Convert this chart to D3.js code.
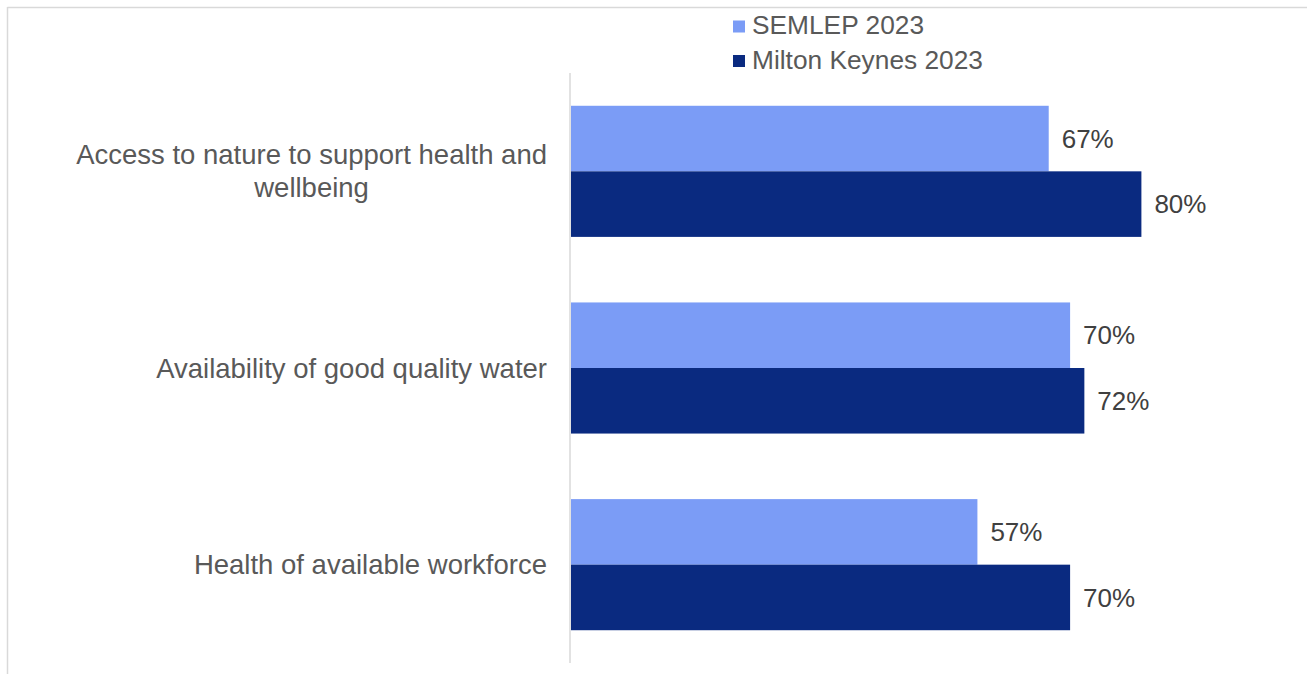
<!DOCTYPE html>
<html>
<head>
<meta charset="utf-8">
<script src="https://cdn.jsdelivr.net/npm/d3@7"></script>
<style>
  html, body { margin: 0; padding: 0; background: #fff; }
  svg { display: block; font-family: "Liberation Sans", Arial, sans-serif; }
</style>
</head>
<body>
<svg id="chart" width="1307" height="674"></svg>
<script>
// Survey categories (top to bottom) and share of respondents per series
const categories = [
  ["Access to nature to support health and", "wellbeing"],
  ["Availability of good quality water"],
  ["Health of available workforce"]
];
const seriesNames = ["SEMLEP 2023", "Milton Keynes 2023"];
const semlep2023 = [67, 70, 57];
const miltonKeynes2023 = [80, 72, 70];
const seriesColors = ["#7b9cf6", "#0a2a80"];

const svg = d3.select("#chart");
const W = 1307, H = 674;
const margin = { left: 571, top: 73, bottom: 663, right: 1284 };

// Outer frame (top and left edges visible)
svg.append("line").attr("x1", 7.5).attr("x2", W).attr("y1", 7.5).attr("y2", 7.5)
  .attr("stroke", "#d9d9d9").attr("stroke-width", 1.5);
svg.append("line").attr("x1", 7.5).attr("x2", 7.5).attr("y1", 7).attr("y2", H)
  .attr("stroke", "#d9d9d9").attr("stroke-width", 1.5);

const keys = categories.map((c, i) => i);
const y = d3.scaleBand().domain(keys).range([margin.top, margin.bottom])
  .paddingInner(1 / 3).paddingOuter(1 / 6);
const y1 = d3.scaleBand().domain([0, 1]).range([0, y.bandwidth()]);
const x = d3.scaleLinear().domain([0, 100]).range([margin.left, margin.right]);

const series = [semlep2023, miltonKeynes2023];

// Bars with value labels
series.forEach((vals, s) => {
  svg.append("g").selectAll("rect").data(vals).join("rect")
    .attr("x", x(0))
    .attr("y", (d, i) => y(i) + y1(s))
    .attr("width", d => x(d) - x(0))
    .attr("height", y1.bandwidth())
    .attr("fill", seriesColors[s]);
  svg.append("g").selectAll("text").data(vals).join("text")
    .attr("x", d => x(d) + 13)
    .attr("y", (d, i) => y(i) + y1(s) + y1.bandwidth() / 2)
    .attr("dy", "0.35em")
    .attr("font-size", 26)
    .attr("fill", "#404040")
    .text(d => d + "%");
});

// Category axis line
svg.append("line").attr("x1", x(0) - 1).attr("x2", x(0) - 1)
  .attr("y1", margin.top).attr("y2", margin.bottom)
  .attr("stroke", "#d9d9d9").attr("stroke-width", 1.5);

// Category labels: wrapped lines centred on the widest line, right-aligned block
const labelRight = 547;
const lineH = 33;
categories.forEach((lines, i) => {
  const g = svg.append("g");
  const cy = y(i) + y.bandwidth() / 2;
  const texts = lines.map((t, j) => g.append("text")
    .attr("font-size", 27.5).attr("fill", "#595959")
    .attr("y", cy + (j - (lines.length - 1) / 2) * lineH)
    .attr("dy", "0.35em")
    .text(t));
  const widths = texts.map(t => t.node().getComputedTextLength());
  const maxW = d3.max(widths);
  const centre = labelRight - maxW / 2;
  texts.forEach(t => t.attr("x", centre).attr("text-anchor", "middle"));
});

// Legend
const legend = svg.append("g");
seriesNames.forEach((name, s) => {
  const ly = 25 + s * 34.5;
  legend.append("rect").attr("x", 733).attr("y", ly - 4.5).attr("width", 12).attr("height", 12)
    .attr("fill", seriesColors[s]);
  legend.append("text").attr("x", 752).attr("y", ly).attr("dy", "0.35em")
    .attr("font-size", 26.3).attr("fill", "#595959").text(name);
});
</script>
</body>
</html>
